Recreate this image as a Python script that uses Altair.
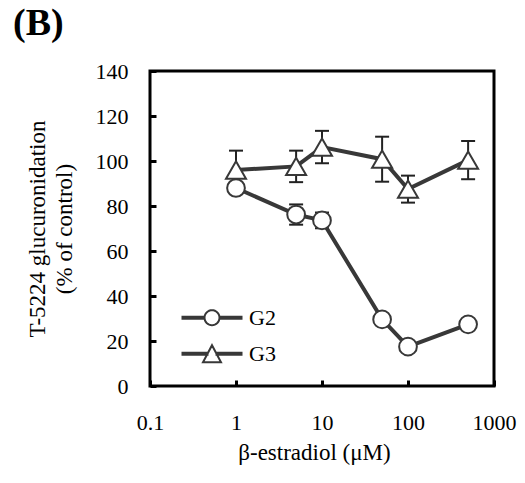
import math
import altair as alt
import pandas as pd

# ---- data ----
conc = [1, 5, 10, 50, 100, 500]
g2_mean = [88.0, 76.2, 73.6, 29.6, 17.5, 27.4]
g2_sd = [2.0, 4.5, 3.5, 2.0, 1.5, 2.0]
g3_mean = [96.0, 97.6, 106.2, 100.8, 87.5, 100.4]
g3_sd = [8.6, 7.0, 7.2, 10.0, 6.0, 8.5]
series_names = ["G2", "G3"]
x_ticks = [0.1, 1, 10, 100, 1000]
y_ticks = [0, 20, 40, 60, 80, 100, 120, 140]

rows = []
for name, means, sds in [("G2", g2_mean, g2_sd), ("G3", g3_mean, g3_sd)]:
    for c, m, s in zip(conc, means, sds):
        rows.append({"conc": c, "val": m, "lo": m - s, "hi": m + s, "series": name})
df = pd.DataFrame(rows)

FONT = "Liberation Serif"
DARK = "#383838"

xscale = alt.Scale(type="log", domain=[0.1, 1000], nice=False)
yscale = alt.Scale(domain=[0, 140], nice=False)

xaxis = alt.Axis(values=x_ticks, format="~g", title="β-estradiol (μM)", grid=False,
                 domain=False, offset=-6, tickSize=6, tickWidth=3, tickColor="black",
                 labelPadding=26, labelFont=FONT, labelFontSize=22, labelColor="black",
                 titleFont=FONT, titleFontSize=23, titleFontWeight="normal",
                 titleColor="black", titlePadding=8, titleX=164, labelFlush=False)
yaxis = alt.Axis(values=y_ticks, title=["T-5224 glucuronidation", "(% of control)"],
                 grid=False, domain=False, offset=-6, tickSize=6, tickWidth=3,
                 tickColor="black", labelPadding=22, labelFont=FONT, labelFontSize=22,
                 labelColor="black", titleFont=FONT, titleFontSize=23,
                 titleFontWeight="normal", titleColor="black", titlePadding=19,
                 titleLineHeight=27, labelFlush=False)

base = alt.Chart(df)
X = alt.X("conc:Q", scale=xscale, axis=xaxis)
Y = alt.Y("val:Q", scale=yscale, axis=yaxis)

err = base.mark_rule(color="#222", strokeWidth=2).encode(
    x=alt.X("conc:Q", scale=xscale), y=alt.Y("lo:Q", scale=yscale), y2="hi:Q")
cap_hi = base.mark_tick(orient="horizontal", size=14, thickness=2, color="#222", opacity=1).encode(
    x=alt.X("conc:Q", scale=xscale), y=alt.Y("hi:Q", scale=yscale))
cap_lo = base.mark_tick(orient="horizontal", size=14, thickness=2, color="#222", opacity=1).encode(
    x=alt.X("conc:Q", scale=xscale), y=alt.Y("lo:Q", scale=yscale))

lines = base.mark_line(color=DARK, strokeWidth=4).encode(x=X, y=Y, detail="series:N")

pts_g2 = base.transform_filter(alt.datum.series == "G2").mark_point(
    shape="circle", filled=True, fill="white", stroke=DARK, strokeWidth=2,
    size=314, opacity=1).encode(x=X, y=Y)
pts_g3 = base.transform_filter(alt.datum.series == "G3").mark_point(
    shape="triangle-up", filled=True, fill="white", stroke=DARK, strokeWidth=2,
    size=400, opacity=1).encode(x=X, y=Y)

# legend symbols: path units are 10 px (symbol size 400); lines + marker outline
L = 2.95
r = 0.75
h = 0.1


def fmt(v):
    return f"{v:.3f}"


circ_pts = [(r * math.cos(2 * math.pi * k / 32), r * math.sin(2 * math.pi * k / 32))
            for k in range(32)]
circle_poly = "M" + " L".join(f"{fmt(px)},{fmt(py)}" for px, py in circ_pts) + " Z"
circle_path = (f"M{-L},{-h} L{-r},{-h} L{-r},{h} L{-L},{h} Z "
               f"M{r},{-h} L{L},{-h} L{L},{h} L{r},{h} Z " + circle_poly)
tw, th = 0.9, 0.85
tri_path = (f"M{-L},{-h} L-0.45,{-h} L-0.45,{h} L{-L},{h} Z "
            f"M0.45,{-h} L{L},{-h} L{L},{h} L0.45,{h} Z "
            f"M0,{-th} L{tw},{th} L{-tw},{th} Z")

# legend-only layer: no rows reach the marks, the legend comes from the scale domain
legend_layer = base.transform_filter("datum.val < -1000").mark_point(
    filled=False, color=DARK, strokeWidth=2, size=400, opacity=1).encode(
    x=alt.X("conc:Q", scale=xscale), y=alt.Y("val:Q", scale=yscale),
    shape=alt.Shape("series:N",
                    scale=alt.Scale(domain=series_names, range=[circle_path, tri_path]),
                    legend=alt.Legend(orient="none", legendX=51, legendY=235.7,
                                      title=None, padding=0, symbolSize=400,
                                      symbolOpacity=1, symbolStrokeColor=DARK,
                                      symbolStrokeWidth=2, rowPadding=11,
                                      labelOffset=26, labelFont=FONT, labelFontSize=22,
                                      labelColor="black")))

chart = alt.layer(err, cap_hi, cap_lo, lines, pts_g2, pts_g3, legend_layer).properties(
    width=344, height=315,
    autosize=alt.AutoSizeParams(type="none"),
    padding={"left": 150, "top": 71, "right": 31, "bottom": 97},
    title=alt.TitleParams(text="(B)", anchor="start", font=FONT, fontSize=38,
                          fontWeight="bold", color="black", dx=-137, dy=-13, frame="group"),
    background="white",
).configure_view(stroke="black", strokeWidth=3)

chart.save("out.html", embed_options={"renderer": "svg", "actions": False})
